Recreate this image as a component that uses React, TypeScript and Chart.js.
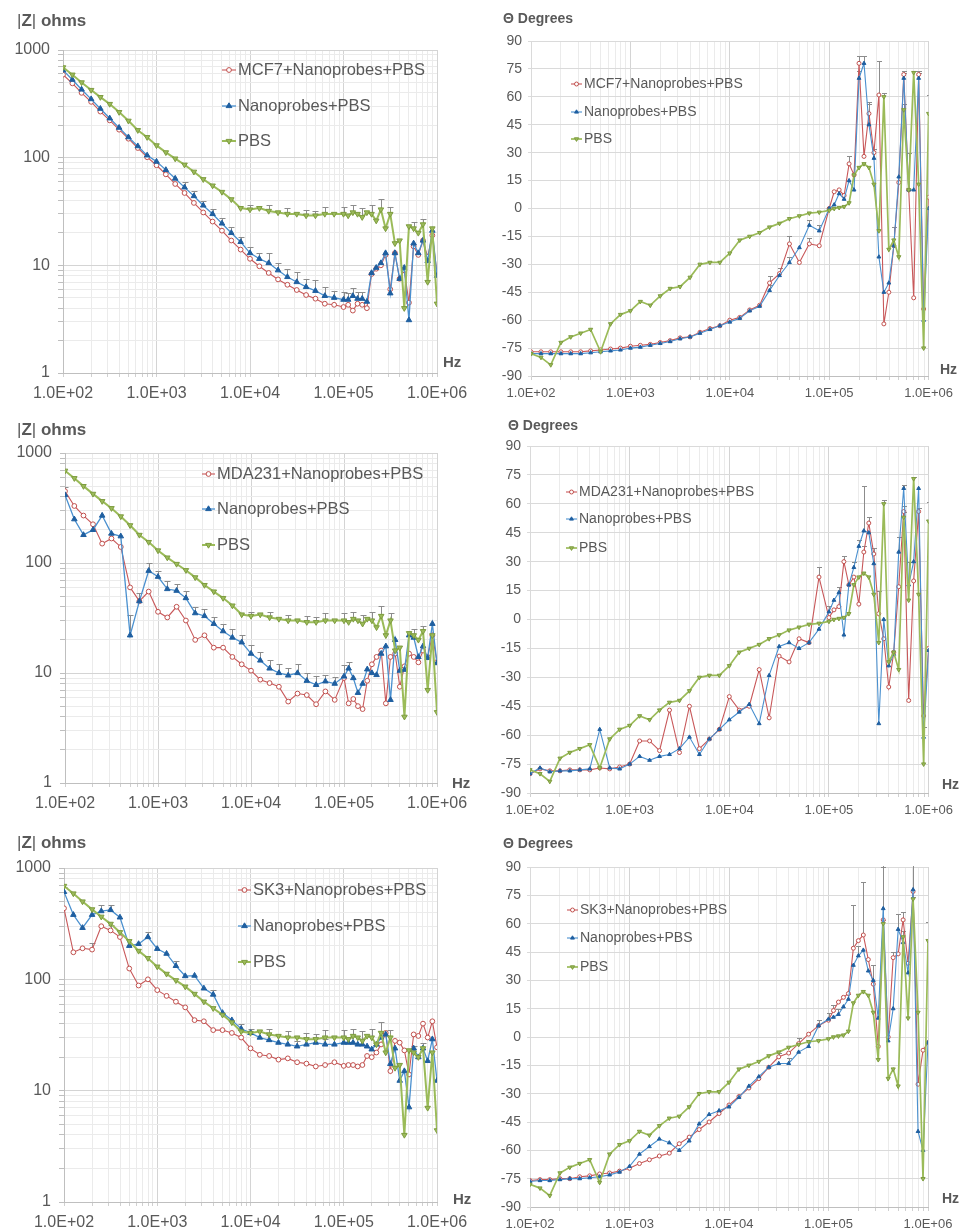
import React, { useEffect, useRef } from "react";
import { Chart, registerables } from "chart.js";

Chart.register(...registerables);

const FONT = "'Liberation Sans', Arial, Helvetica, sans-serif";
const TEXT = "#595959";

// ---------------- data ----------------
const FREQ_HZ = [
  100, 126, 158, 200, 251, 316, 398, 501, 631, 794,
  1000, 1259, 1585, 1995, 2512, 3162, 3981, 5012, 6310, 7943,
  10000, 12589, 15849, 19953, 25119, 31623, 39811, 50119, 63096, 79433,
  100000, 112202, 125893, 141254, 158489, 177828, 199526, 223872, 251189, 281838,
  316228, 354813, 398107, 446684, 501187, 562341, 630957, 707946, 794328, 891251,
  1000000,
];

const X_TICK_VALUES = [100, 1000, 10000, 100000, 1000000];
const X_TICK_LABELS = ["1.0E+02", "1.0E+03", "1.0E+04", "1.0E+05", "1.0E+06"];
const Z_TICK_VALUES = [1, 10, 100, 1000];
const Z_TICK_LABELS = ["1", "10", "100", "1000"];
const PHASE_MIN = -90;
const PHASE_MAX = 90;
const PHASE_STEP = 15;

// PBS control (same in every row)
const PBS_Z = [
  690, 590, 500, 425, 365, 315, 265, 220, 180, 155,
  130, 112, 98, 86, 74, 63, 55, 48, 41, 34,
  33, 34, 32, 31, 30, 30, 29, 29, 30, 30,
  30, 29, 31, 30, 28, 31, 30, 26, 33, 22,
  30, 16, 17, 4, 23, 22, 20, 24, 7, 22,
  4.4,
];
const PBS_Z_ERR: Record<number, number> = { 20: 3, 22: 4, 24: 4, 26: 4, 27: 3, 28: 5, 30: 5, 32: 5, 34: 6, 36: 6, 38: 8, 40: 5, 45: 3, 47: 3 };
const PBS_PHASE = [
  -78, -80, -84, -72, -69, -67, -65, -77, -62, -57,
  -55, -50, -52, -47, -43, -42, -37, -30, -29, -29,
  -24, -17, -15, -13, -10, -8, -5.5, -4, -2.5, -2,
  -1, 0, 0.5, 1, 3, 18, 22, 24, 22, 13,
  -12, 60, -22, -17, -26, 53, 10, 73, 13, -75,
  51,
];
const PBS_PHASE_ERR: Record<number, number> = { 41: 2, 45: 3, 47: 1, 50: 10 };

// Row 1 : MCF7
const MCF7_Z = [
  590, 490, 400, 330, 268, 222, 182, 150, 123, 101,
  85, 70, 57, 47, 38, 31, 25.5, 21, 17, 14,
  11.5, 9.8, 8.5, 7.4, 6.6, 5.9, 5.3, 4.9, 4.4, 4.3,
  4.1, 4.3, 3.8, 4.4, 4.3, 4.0, 8.3, 9.3, 10, 12.5,
  6, 13, 7.5, 9, 4.5, 15, 12.5, 17, 12, 19,
  8.5,
];
const NANO1_Z = [
  650, 530, 430, 350, 285, 232, 190, 155, 128, 105,
  92, 77, 64, 53, 44, 36, 30, 24.5, 20, 16.5,
  13, 11.5, 10.5, 9, 7.8, 7, 6.3, 5.8, 5.2, 5,
  4.8, 4.8, 5.2, 4.9, 4.9, 4.6, 8.5, 9.5, 10.5, 13,
  5.5, 13, 7.5, 9.5, 3.1, 16, 13, 17, 11, 21,
  8,
];
const NANO1_Z_ERR: Record<number, number> = { 13: 6, 14: 5, 15: 4, 16: 3.5, 17: 3, 18: 2.5, 19: 2, 20: 1.8, 21: 1.6, 22: 2.5, 23: 1.6, 24: 1.5, 25: 1.6, 26: 1.2, 27: 1.5, 28: 1.1, 29: 0.8, 30: 0.8, 31: 0.7, 32: 0.9, 33: 0.7, 34: 0.7 };
const MCF7_PHASE = [
  -77, -77, -77, -77, -77, -77, -76.5, -76, -75.5, -75,
  -74, -73.5, -73, -72, -71, -69.5, -69, -66.5, -64.5, -63,
  -60, -58.5, -54.5, -52, -40, -35, -19, -29, -19, -20,
  0, 9, 10, 7, 24, 18, 78, 28, 51, 30,
  61, -62, -45, -20, 14, 72, 10, -48, 72, -54,
  6,
];
const MCF7_PHASE_ERR: Record<number, number> = { 24: 4, 25: 3, 26: 4, 28: 3, 34: 4, 36: 4, 38: 5, 40: 18, 45: 2, 48: 2 };
const NANO1_PHASE = [
  -78, -78, -78, -78, -78, -78, -77.5, -77, -76.5, -76,
  -75, -74.5, -73.5, -72.5, -71.5, -70, -69, -67, -65, -63,
  -61, -59, -55, -52.5, -44, -36, -29, -21, -9, -12,
  0, 2, 8, 5, 15, 10, 70, 78, 45, 27,
  -26, -45, -40, -20, 17, 70, 10, 10, 70, -60,
  0,
];
const NANO1_PHASE_ERR: Record<number, number> = { 24: 3, 26: 3, 28: 3, 29: 3, 36: 4, 37: 4, 38: 12, 39: 5, 43: 10, 45: 3, 46: 20, 48: 3 };

// Row 2 : MDA231
const MDA_Z = [
  450, 330, 270, 225, 150, 167, 140, 60, 45, 55,
  36, 32, 40, 30, 20, 22, 17, 17, 14, 12,
  10.5, 8.7, 8.1, 7.5, 5.5, 6.5, 6.3, 5.2, 6.8, 5.7,
  9, 5.3, 5.8, 5, 4.7, 8.5, 12, 14, 16, 5.3,
  14, 15, 7.5, 11.5, 15, 14, 12.5, 16, 14, 22,
  12.6,
];
const MDA_Z_ERR: Record<number, number> = { 0: 40, 5: 15 };
const NANO2_Z = [
  415, 250, 180, 200, 270, 185, 175, 22, 45, 85,
  75, 58, 56, 48, 35, 33, 28, 24, 21, 19,
  15, 13, 11, 10, 9.5, 10, 8.5, 7.8, 8.4, 8,
  9.3, 11, 9, 6.6, 8, 10.8, 10, 9.6, 15, 17.5,
  5.7, 20, 10.5, 10.7, 22, 21, 14, 17.5, 13.7, 28,
  12.3,
];
const NANO2_Z_ERR: Record<number, number> = { 7: 12, 8: 8, 9: 15, 10: 10, 11: 10, 12: 8, 13: 8, 14: 5, 15: 5, 16: 4, 17: 4, 18: 4, 19: 3, 20: 3, 21: 2.5, 22: 2, 23: 2, 24: 1.5, 25: 2, 26: 1.5, 27: 1.5, 28: 1.2, 29: 1.2, 30: 2.5, 31: 1.5 };
const MDA_PHASE = [
  -80, -77.5, -78.5, -78.5, -78, -78, -78, -77, -77.5, -76.5,
  -75, -63, -63, -68, -47, -69, -45, -67, -62, -57,
  -40, -47, -45, -26, -51, -19, -22, -10, -12, 22,
  1, 5, 6.7, 30, 18, 22, 8, 35, 50, 34,
  3, -10, -35, -17, 17, 56, -42, 20, 56, -50,
  -15,
];
const MDA_PHASE_ERR: Record<number, number> = { 29: 5, 33: 3, 37: 3, 38: 3, 39: 3, 40: 12, 45: 3, 48: 2 };
const NANO2_PHASE = [
  -80, -77, -79, -78.5, -78.5, -78, -77.5, -57, -77, -77.5,
  -75, -71, -73, -71, -70, -67, -61, -70, -62, -57,
  -52, -48, -44, -54, -29, -14, -12, -15, -12, -5,
  4, 10, 14, -8, 18, 27, 38, 46, 45, 29,
  -54, 0, -24, -18, 35, 68, 18, 30, 68, -61,
  -16,
];
const NANO2_PHASE_ERR: Record<number, number> = { 30: 3, 32: 3, 35: 3, 36: 3, 37: 23, 44: 8, 45: 2, 46: 12, 49: 5 };

// Row 3 : SK3
const SK3_Z = [
  435, 175, 190, 185, 300, 275, 240, 125, 88, 100,
  80, 71, 63, 56, 43, 42, 35, 35, 33, 30,
  24, 21, 20.5, 19, 19.5, 18, 17.5, 16.5, 17, 18,
  16.7, 17, 17, 16.5, 17, 20.5, 20, 22, 26, 33,
  15, 28, 27, 23, 14, 32, 31, 40, 30, 42,
  24.5,
];
const SK3_Z_ERR: Record<number, number> = { 3: 25, 5: 30 };
const NANO3_Z = [
  610, 380, 290, 380, 410, 420, 360, 200, 208, 240,
  188, 170, 132, 107, 108, 83, 73, 50, 43, 36,
  33, 30, 28.5, 27, 26, 25, 26, 27, 26, 26,
  27, 27, 27, 26, 26, 25, 23.5, 26, 30, 32,
  17.4, 24, 12.3, 15, 7.1, 24, 20, 24, 18.5, 29,
  12.3,
];
const NANO3_Z_ERR: Record<number, number> = { 0: 60, 4: 60, 5: 50, 9: 25, 12: 15, 16: 8, 19: 4, 22: 3, 25: 3, 28: 3, 31: 3, 34: 3 };
const SK3_PHASE = [
  -76, -75.5, -75.5, -75, -75, -74, -73.5, -72.5, -72, -71,
  -69.5, -67, -65, -63, -61.5, -56.5, -53, -49, -45, -40.5,
  -36, -31.5, -27, -22, -16, -10.5, -8.5, -3.5, 1.5, 6,
  8.9, 14, 18.5, 21, 23, 47, 51, 54, 41, 28,
  -5, 62, 0, 42, 44, 62, 39, 77, -25, -7,
  -3,
];
const SK3_PHASE_ERR: Record<number, number> = { 25: 2, 27: 3, 29: 3, 31: 3, 35: 23, 37: 28, 39: 10, 41: 28, 43: 3, 45: 4, 47: 20 };
const NANO3_PHASE = [
  -76.5, -76, -76, -75.5, -75, -75, -74.5, -74, -73, -71.5,
  -68.5, -62, -58, -54, -56, -60, -55, -46, -41, -39,
  -37, -32, -26, -21, -16, -14, -14, -8, -5, 6,
  9.5, 10.5, 12, 16, 20, 38, 43, 46, 35, 30,
  10, 68, -2, 15, 57, 50, 34, 78, -50, -60,
  -3,
];
const NANO3_PHASE_ERR: Record<number, number> = { 26: 3, 28: 3, 30: 3, 32: 3, 34: 3, 36: 5, 41: 25, 44: 8, 47: 15 };

const LABEL_NANO = "Nanoprobes+PBS";
const LABEL_PBS = "PBS";

// ---------------- styles ----------------
type Kind = "red" | "blue" | "green";
const COLORS: Record<Kind, { line: string; fill: string; stroke: string; style: string; rot: number }> = {
  red: { line: "#C8585A", fill: "#FFFFFF", stroke: "#C0504D", style: "circle", rot: 0 },
  blue: { line: "#4A90CF", fill: "#1F5FA0", stroke: "#1F5FA0", style: "triangle", rot: 0 },
  green: { line: "#9BBB59", fill: "#9BBB59", stroke: "#7E9C40", style: "triangle", rot: 180 },
};
const ERR_COLOR = "#8C8C8C";

type Series = { label: string; data: number[]; kind: Kind; err?: Record<number, number> };
type Panel = {
  kind: "z" | "phase";
  canvas: { x: number; y: number; w: number; h: number };
  plot: { x0: number; y0: number; x1: number; y1: number };
  title: { x: number; y: number };
  hz: { x: number; y: number };
  legend: { x0: number; x1: number; tx: number; ys: number[] };
  series: Series[];
};

const PANELS: Panel[] = [
  {
    kind: "z",
    canvas: { x: 0, y: 0, w: 475, h: 410 },
    plot: { x0: 63, y0: 50, x1: 437, y1: 373 },
    title: { x: 17, y: 11 },
    hz: { x: 443, y: 353 },
    legend: { x0: 222, x1: 236, tx: 238, ys: [70, 106, 141] },
    series: [
      { label: "MCF7+Nanoprobes+PBS", data: MCF7_Z, kind: "red" },
      { label: LABEL_NANO, data: NANO1_Z, kind: "blue", err: NANO1_Z_ERR },
      { label: LABEL_PBS, data: PBS_Z, kind: "green", err: PBS_Z_ERR },
    ],
  },
  {
    kind: "phase",
    canvas: { x: 480, y: 0, w: 479, h: 410 },
    plot: { x0: 531, y0: 41, x1: 929, y1: 376 },
    title: { x: 503, y: 9 },
    hz: { x: 940, y: 360 },
    legend: { x0: 571, x1: 582, tx: 584, ys: [84, 112, 139] },
    series: [
      { label: "MCF7+Nanoprobes+PBS", data: MCF7_PHASE, kind: "red", err: MCF7_PHASE_ERR },
      { label: LABEL_NANO, data: NANO1_PHASE, kind: "blue", err: NANO1_PHASE_ERR },
      { label: LABEL_PBS, data: PBS_PHASE, kind: "green", err: PBS_PHASE_ERR },
    ],
  },
  {
    kind: "z",
    canvas: { x: 0, y: 410, w: 475, h: 410 },
    plot: { x0: 65, y0: 453, x1: 437, y1: 783 },
    title: { x: 17, y: 420 },
    hz: { x: 452, y: 774 },
    legend: { x0: 202, x1: 215, tx: 217, ys: [474, 509, 545] },
    series: [
      { label: "MDA231+Nanoprobes+PBS", data: MDA_Z, kind: "red", err: MDA_Z_ERR },
      { label: LABEL_NANO, data: NANO2_Z, kind: "blue", err: NANO2_Z_ERR },
      { label: LABEL_PBS, data: PBS_Z, kind: "green", err: PBS_Z_ERR },
    ],
  },
  {
    kind: "phase",
    canvas: { x: 480, y: 410, w: 479, h: 415 },
    plot: { x0: 530, y0: 446, x1: 929, y1: 793 },
    title: { x: 508, y: 416 },
    hz: { x: 942, y: 775 },
    legend: { x0: 566, x1: 577, tx: 579, ys: [492, 519, 548] },
    series: [
      { label: "MDA231+Nanoprobes+PBS", data: MDA_PHASE, kind: "red", err: MDA_PHASE_ERR },
      { label: LABEL_NANO, data: NANO2_PHASE, kind: "blue", err: NANO2_PHASE_ERR },
      { label: LABEL_PBS, data: PBS_PHASE, kind: "green", err: PBS_PHASE_ERR },
    ],
  },
  {
    kind: "z",
    canvas: { x: 0, y: 820, w: 475, h: 412 },
    plot: { x0: 64, y0: 868, x1: 437, y1: 1202 },
    title: { x: 17, y: 833 },
    hz: { x: 453, y: 1190 },
    legend: { x0: 238, x1: 251, tx: 253, ys: [890, 926, 962] },
    series: [
      { label: "SK3+Nanoprobes+PBS", data: SK3_Z, kind: "red", err: SK3_Z_ERR },
      { label: LABEL_NANO, data: NANO3_Z, kind: "blue", err: NANO3_Z_ERR },
      { label: LABEL_PBS, data: PBS_Z, kind: "green", err: PBS_Z_ERR },
    ],
  },
  {
    kind: "phase",
    canvas: { x: 480, y: 825, w: 479, h: 407 },
    plot: { x0: 530, y0: 867, x1: 928, y1: 1207 },
    title: { x: 503, y: 834 },
    hz: { x: 942, y: 1189 },
    legend: { x0: 567, x1: 578, tx: 580, ys: [910, 938, 967] },
    series: [
      { label: "SK3+Nanoprobes+PBS", data: SK3_PHASE, kind: "red", err: SK3_PHASE_ERR },
      { label: LABEL_NANO, data: NANO3_PHASE, kind: "blue", err: NANO3_PHASE_ERR },
      { label: LABEL_PBS, data: PBS_PHASE, kind: "green", err: PBS_PHASE_ERR },
    ],
  },
];

function logGrid(lo: number, hi: number): number[] {
  const out: number[] = [];
  for (let d = lo; d < hi; d *= 10) {
    for (let m = 1; m < 10; m++) out.push(m * d);
  }
  out.push(hi);
  return out;
}

function drawMarker(ctx: CanvasRenderingContext2D, kind: Kind, x: number, y: number, r: number) {
  const c = COLORS[kind];
  ctx.save();
  ctx.fillStyle = c.fill;
  ctx.strokeStyle = c.stroke;
  ctx.lineWidth = 1;
  ctx.beginPath();
  if (c.style === "circle") {
    ctx.arc(x, y, r, 0, Math.PI * 2);
  } else {
    const dir = c.rot === 180 ? -1 : 1;
    const h = r * 1.5;
    ctx.moveTo(x, y - dir * r);
    ctx.lineTo(x - r * 0.9, y + dir * (h - r));
    ctx.lineTo(x + r * 0.9, y + dir * (h - r));
    ctx.closePath();
  }
  ctx.fill();
  ctx.stroke();
  ctx.restore();
}

function PanelChart({ p }: { p: Panel }) {
  const ref = useRef<HTMLCanvasElement | null>(null);
  useEffect(() => {
    const canvas = ref.current;
    if (!canvas) return;
    const left = p.kind === "z";
    const xFont = left ? 16 : 13;
    const yFont = left ? 16 : 14;
    const legendFont = left ? 16.5 : 14;
    const rad = left ? { red: 2.4, blue: 3.2, green: 3.2 } : { red: 2, blue: 2.2, green: 2.4 };
    const lw = left ? { red: 1.1, blue: 1.3, green: 2 } : { red: 1.1, blue: 1.1, green: 1.7 };
    const orders = { red: 3, blue: 2, green: 1 };
    const xGrid = logGrid(100, 1000000);
    const yGrid = logGrid(1, 1000);
    const capHalf = left ? 3 : 2.5;

    const legendPlugin = {
      id: "inlineLegend",
      afterDraw(chart: any) {
        const ctx = chart.ctx as CanvasRenderingContext2D;
        ctx.save();
        p.series.forEach((s, i) => {
          const y = p.legend.ys[i] - p.canvas.y;
          const x0 = p.legend.x0 - p.canvas.x;
          const x1 = p.legend.x1 - p.canvas.x;
          ctx.strokeStyle = COLORS[s.kind].line;
          ctx.lineWidth = lw[s.kind];
          ctx.beginPath();
          ctx.moveTo(x0, y);
          ctx.lineTo(x1, y);
          ctx.stroke();
          drawMarker(ctx, s.kind, (x0 + x1) / 2, y, rad[s.kind]);
          ctx.fillStyle = TEXT;
          ctx.font = `${legendFont}px ${FONT}`;
          ctx.textBaseline = "middle";
          ctx.textAlign = "left";
          ctx.fillText(s.label, p.legend.tx - p.canvas.x, y);
        });
        ctx.restore();
      },
    };

    const errorBarPlugin = {
      id: "errorBars",
      beforeDatasetsDraw(chart: any) {
        const ctx = chart.ctx as CanvasRenderingContext2D;
        const xs = chart.scales.x;
        const ys = chart.scales.y;
        const a = chart.chartArea;
        ctx.save();
        ctx.beginPath();
        ctx.rect(a.left, a.top - 1, a.right - a.left, a.bottom - a.top + 1);
        ctx.clip();
        ctx.strokeStyle = ERR_COLOR;
        ctx.lineWidth = 1;
        p.series.forEach((s) => {
          if (!s.err) return;
          Object.keys(s.err).forEach((k) => {
            const i = Number(k);
            const e = (s.err as Record<number, number>)[i];
            const v = s.data[i];
            const px = Math.round(xs.getPixelForValue(FREQ_HZ[i])) + 0.5;
            const y0 = ys.getPixelForValue(v);
            const y1 = Math.round(ys.getPixelForValue(v + e)) + 0.5;
            ctx.beginPath();
            ctx.moveTo(px, y0);
            ctx.lineTo(px, y1);
            ctx.moveTo(px - capHalf, y1);
            ctx.lineTo(px + capHalf, y1);
            ctx.stroke();
          });
        });
        ctx.restore();
      },
    };

    const yAxisWidth = p.plot.x0 - p.canvas.x;
    const xAxisHeight = p.canvas.y + p.canvas.h - p.plot.y1;

    const yScale: any =
      p.kind === "z"
        ? {
            type: "logarithmic",
            min: 1,
            max: 1000,
            afterBuildTicks: (s: any) => {
              s.ticks = yGrid.map((v) => ({ value: v }));
            },
            afterFit: (s: any) => {
              s.width = yAxisWidth;
            },
            ticks: {
              autoSkip: false,
              padding: 8,
              color: TEXT,
              font: { family: FONT, size: yFont },
              callback: (v: number) => {
                const i = Z_TICK_VALUES.indexOf(v);
                return i >= 0 ? Z_TICK_LABELS[i] : "";
              },
            },
            grid: {
              color: (c: any) => (Z_TICK_VALUES.indexOf(c.tick?.value) >= 0 ? "#D4D4D4" : "#EBEBEB"),
              tickLength: 5,
              tickColor: "#BFBFBF",
            },
            border: { color: "#BFBFBF" },
          }
        : {
            type: "linear",
            min: PHASE_MIN,
            max: PHASE_MAX,
            afterFit: (s: any) => {
              s.width = yAxisWidth;
            },
            ticks: {
              stepSize: PHASE_STEP,
              padding: 6,
              color: TEXT,
              font: { family: FONT, size: yFont },
            },
            grid: { color: "#DADADA", tickLength: 3, tickColor: "#DADADA" },
            border: { color: "#DADADA" },
          };

    const chart = new Chart(canvas, {
      type: "line",
      data: {
        labels: FREQ_HZ,
        datasets: p.series.map((s) => ({
          label: s.label,
          data: s.data.map((v, i) => ({ x: FREQ_HZ[i], y: v })),
          borderColor: COLORS[s.kind].line,
          backgroundColor: COLORS[s.kind].fill,
          borderWidth: lw[s.kind],
          pointStyle: COLORS[s.kind].style as any,
          rotation: COLORS[s.kind].rot,
          pointRadius: rad[s.kind],
          pointBackgroundColor: COLORS[s.kind].fill,
          pointBorderColor: COLORS[s.kind].stroke,
          pointBorderWidth: 1,
          tension: 0,
          fill: false,
          order: orders[s.kind],
        })),
      },
      options: {
        animation: false,
        responsive: false,
        maintainAspectRatio: false,
        events: [],
        layout: {
          padding: {
            left: 0,
            top: p.plot.y0 - p.canvas.y,
            right: p.canvas.x + p.canvas.w - p.plot.x1,
            bottom: 0,
          },
        },
        plugins: {
          legend: { display: false },
          tooltip: { enabled: false },
          title: { display: false },
        },
        scales: {
          x: {
            type: "logarithmic",
            min: 100,
            max: 1000000,
            afterBuildTicks: (s: any) => {
              s.ticks = xGrid.map((v) => ({ value: v }));
            },
            afterFit: (s: any) => {
              s.height = xAxisHeight;
            },
            ticks: {
              autoSkip: false,
              maxRotation: 0,
              minRotation: 0,
              padding: left ? 7 : 6,
              color: TEXT,
              font: { family: FONT, size: xFont },
              callback: (v: number) => {
                const i = X_TICK_VALUES.indexOf(v);
                return i >= 0 ? X_TICK_LABELS[i] : "";
              },
            },
            grid: {
              color: (c: any) => (X_TICK_VALUES.indexOf(c.tick?.value) >= 0 ? "#D4D4D4" : "#EBEBEB"),
              tickLength: 4,
              tickColor: "#D0D0D0",
            },
            border: { color: "#BFBFBF" },
          },
          y: yScale,
        },
      } as any,
      plugins: [errorBarPlugin, legendPlugin],
    });
    return () => chart.destroy();
  }, [p]);

  return (
    <canvas
      ref={ref}
      width={p.canvas.w}
      height={p.canvas.h}
      style={{
        position: "absolute",
        left: p.canvas.x,
        top: p.canvas.y,
        width: p.canvas.w,
        height: p.canvas.h,
      }}
    />
  );
}

export default function App() {
  return (
    <div
      style={{
        position: "absolute",
        left: 0,
        top: 0,
        width: 959,
        height: 1232,
        background: "#FFFFFF",
        overflow: "hidden",
        fontFamily: FONT,
        color: TEXT,
      }}
    >
      {PANELS.map((p, i) => (
        <PanelChart key={"c" + i} p={p} />
      ))}
      {PANELS.map((p, i) =>
        p.kind === "z" ? (
          <div
            key={"t" + i}
            style={{ position: "absolute", left: p.title.x, top: p.title.y, fontSize: 17, lineHeight: "20px", whiteSpace: "nowrap" }}
          >
            <span style={{ fontWeight: 400 }}>|</span>
            <span style={{ fontWeight: 700 }}>Z</span>
            <span style={{ fontWeight: 400 }}>|</span>
            <span style={{ fontWeight: 700 }}> ohms</span>
          </div>
        ) : (
          <div
            key={"t" + i}
            style={{ position: "absolute", left: p.title.x, top: p.title.y, fontSize: 14, lineHeight: "18px", fontWeight: 700, whiteSpace: "nowrap" }}
          >
            Θ Degrees
          </div>
        )
      )}
      {PANELS.map((p, i) => (
        <div
          key={"h" + i}
          style={{
            position: "absolute",
            left: p.hz.x,
            top: p.hz.y,
            fontSize: p.kind === "z" ? 15 : 14,
            lineHeight: "18px",
            fontWeight: 700,
          }}
        >
          Hz
        </div>
      ))}
    </div>
  );
}
